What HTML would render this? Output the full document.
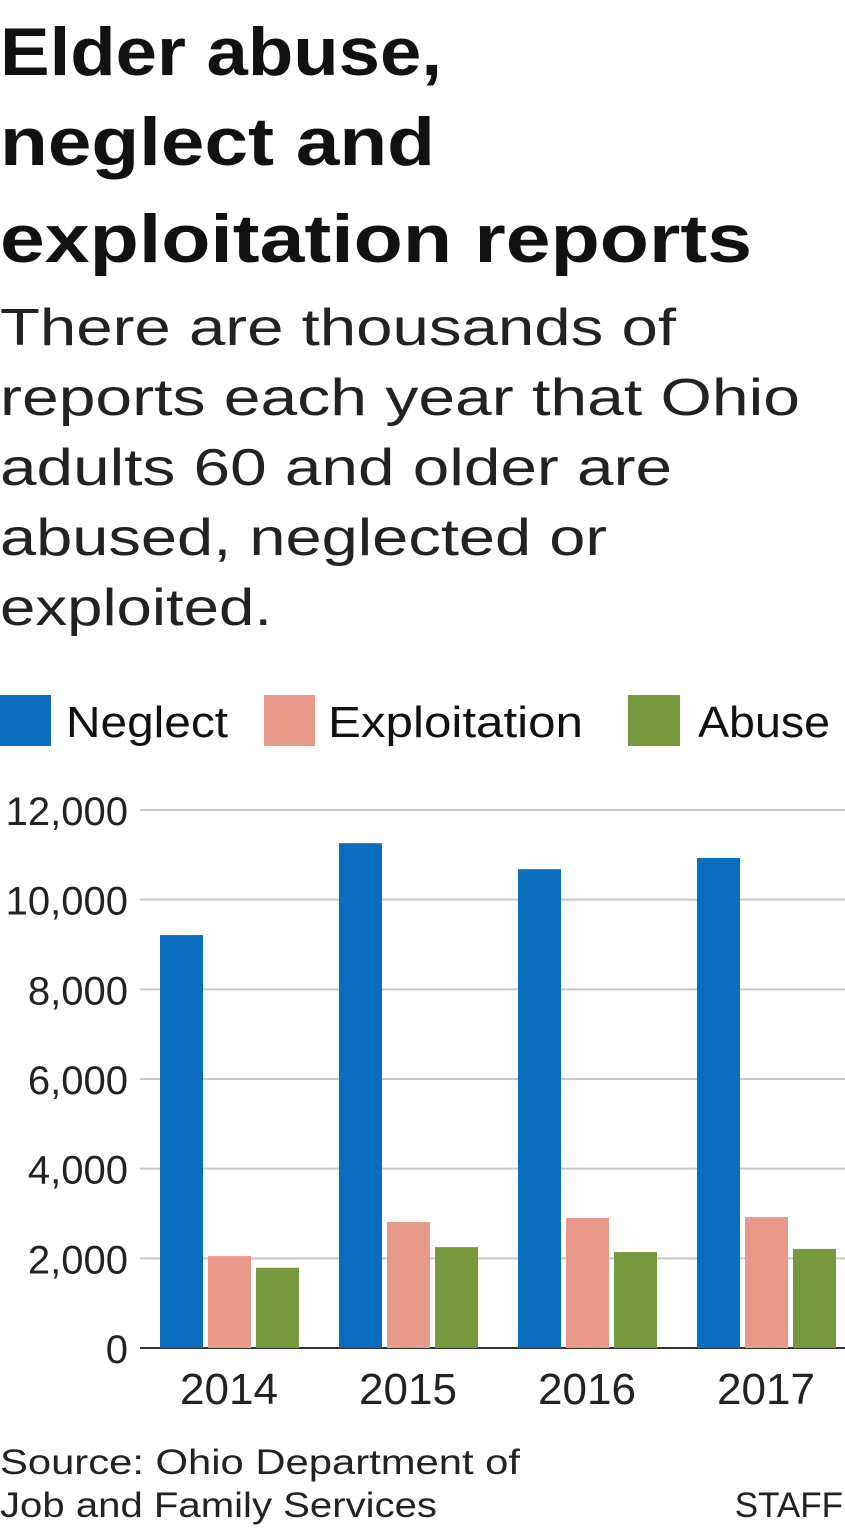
<!DOCTYPE html>
<html><head><meta charset="utf-8"><style>
body{margin:0;background:#fff;width:845px;height:1536px;overflow:hidden;font-family:"Liberation Sans",sans-serif;color:#111}
svg{position:absolute;left:0;top:0}
</style></head><body>
<svg width="845" height="1536">
<g font-weight="bold" font-size="68" fill="#111" lengthAdjust="spacingAndGlyphs">
<text x="0" y="75" textLength="442" lengthAdjust="spacingAndGlyphs">Elder abuse,</text>
<text x="0" y="165" textLength="435" lengthAdjust="spacingAndGlyphs">neglect and</text>
<text x="0" y="262" textLength="752" lengthAdjust="spacingAndGlyphs">exploitation reports</text>
</g>
<g font-size="52" fill="#222">
<text x="0" y="345" textLength="676" lengthAdjust="spacingAndGlyphs">There are thousands of</text>
<text x="0" y="415" textLength="800" lengthAdjust="spacingAndGlyphs">reports each year that Ohio</text>
<text x="0" y="485" textLength="672" lengthAdjust="spacingAndGlyphs">adults 60 and older are</text>
<text x="0" y="555" textLength="607" lengthAdjust="spacingAndGlyphs">abused, neglected or</text>
<text x="0" y="625" textLength="272" lengthAdjust="spacingAndGlyphs">exploited.</text>
</g>
<g font-size="44" fill="#111">
<rect x="0" y="695" width="51" height="51" fill="#0b6dc0"/>
<text x="66" y="737" textLength="162" lengthAdjust="spacingAndGlyphs">Neglect</text>
<rect x="264" y="695" width="51" height="51" fill="#e8998a"/>
<text x="328" y="737" textLength="255" lengthAdjust="spacingAndGlyphs">Exploitation</text>
<rect x="628" y="695" width="52" height="51" fill="#76993e"/>
<text x="698" y="737" textLength="132" lengthAdjust="spacingAndGlyphs">Abuse</text>
</g>
<g id="grid"></g><g id="bars"></g><g id="labels"></g>
<g font-size="35" fill="#222">
<text x="0" y="1474" textLength="520" lengthAdjust="spacingAndGlyphs">Source: Ohio Department of</text>
<text x="0" y="1517" textLength="437" lengthAdjust="spacingAndGlyphs">Job and Family Services</text>
<text x="843" y="1517" text-anchor="end">STAFF</text>
</g>
</svg>
<script>
const categories=["2014","2015","2016","2017"];
const neglect=[9210,11260,10680,10930];
const exploitation=[2050,2810,2900,2920];
const abuse=[1790,2250,2140,2210];
const yTicks=[0,2000,4000,6000,8000,10000,12000];
const tickLabels=["0","2,000","4,000","6,000","8,000","10,000","12,000"];
const ns="http://www.w3.org/2000/svg";
const y=v=>1348-v/12000*538;
const x0=i=>160+i*179;
const series=[[neglect,"#0b6dc0","neglect"],[exploitation,"#e8998a","exploitation"],[abuse,"#76993e","abuse"]];
function mk(t,a,p){const e=document.createElementNS(ns,t);for(const k in a)e.setAttribute(k,a[k]);p.appendChild(e);return e;}
const grid=document.getElementById('grid'),bars=document.getElementById('bars'),labels=document.getElementById('labels');
yTicks.forEach((v,i)=>{
 const l=mk('line',{x1:140,x2:845,y1:y(v),y2:y(v),stroke:v===0?'#333':'#c8c8c8','stroke-width':2},grid);
 
 
 const t=mk('text',{x:128,y:y(v)+15,'text-anchor':'end','font-size':40,fill:'#222'},labels);
 t.textContent=tickLabels[i];
 
 
});
categories.forEach((c,i)=>{
 series.forEach(([arr,col,nm],j)=>{
  const r=mk('rect',{x:x0(i)+j*48,y:y(arr[i]),width:43,height:1348-y(arr[i]),fill:col},bars);
  
  
 });
 const t=mk('text',{x:x0(i)+69,y:1404,'text-anchor':'middle','font-size':44,fill:'#222'},labels);
 t.textContent=c;
 
 
});
</script>
</body></html>
